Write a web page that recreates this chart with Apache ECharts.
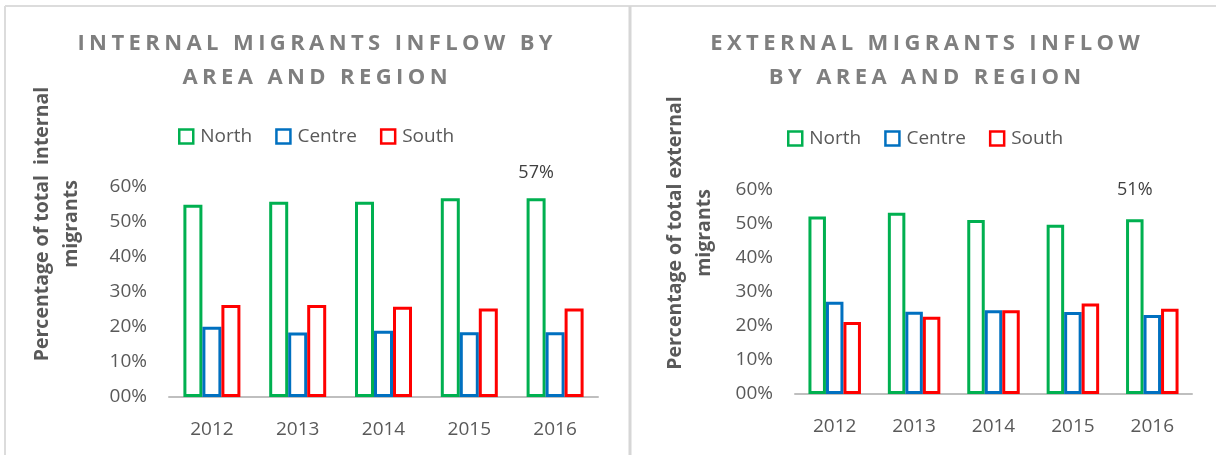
<!DOCTYPE html>
<html>
<head>
<meta charset="utf-8">
<title>Migrants inflow by area and region</title>
<script src="https://cdn.jsdelivr.net/npm/echarts@6.0.0/dist/echarts.min.js"></script>
<style>
  html, body { margin: 0; padding: 0; background: #fff; }
  #chart { width: 1216px; height: 455px; }
</style>
</head>
<body>
<div id="chart"></div>
<script>
// categories / tick values
var years = ["2012", "2013", "2014", "2015", "2016"];
var regions = ["North", "Centre", "South"];
var yTicks = [0, 10, 20, 30, 40, 50, 60];

// internal migrants, % of total
var internalNorth = [54.9, 55.8, 55.8, 56.8, 56.8];
var internalCentre = [20.1, 18.4, 18.9, 18.5, 18.5];
var internalSouth = [26.3, 26.3, 25.8, 25.3, 25.3];

// external migrants, % of total
var externalNorth = [52.2, 53.3, 51.2, 49.8, 51.4];
var externalCentre = [27.1, 24.2, 24.6, 24.1, 23.2];
var externalSouth = [21.2, 22.7, 24.6, 26.6, 25.1];

var colors = ["#00b050", "#0070c0", "#ff0000"];
var labelIndex = 4; // only 2016 North is labelled

var chart = echarts.init(document.getElementById("chart"));

function pct(v) {
  return (v < 10 ? "0" : "") + v + "%";
}

// spaced out capitals like the excel title (each char its own rich token)
function spaced(str) {
  return str.split("\n").map(function(line) {
    return line.split("").map(function(c) { return "{s|" + c + "}"; }).join("");
  }).join("\n");
}

// one bar series, outlined like the excel chart
function barSeries(name, values, color, axisIdx, withLabel, labelDist) {
  var data = values.map(function(v, i) {
    if (withLabel && i === labelIndex) {
      return {
        value: v,
        label: {
          show: true,
          position: "top",
          distance: labelDist,
          formatter: function(p) { return Math.round(p.value) + "%"; },
          color: "#404040",
          fontSize: 18,
          fontFamily: "Open Sans"
        }
      };
    }
    return v;
  });
  return {
    name: name,
    type: "bar",
    xAxisIndex: axisIdx,
    yAxisIndex: axisIdx,
    barWidth: axisIdx === 0 ? 19 : 17.5,
    barGap: "0%",
    itemStyle: { color: "#fff", borderColor: color, borderWidth: 3 },
    emphasis: { disabled: true },
    data: data
  };
}

var axisText = { color: "#595959", fontSize: 19, fontFamily: "Open Sans" };

function xAxisCfg(gridIdx) {
  return {
    type: "category",
    gridIndex: gridIdx,
    data: years,
    axisLine: { lineStyle: { color: "#bfbfbf", width: 2 } },
    axisTick: { show: false },
    axisLabel: Object.assign({ margin: 23 }, axisText)
  };
}

function yAxisCfg(gridIdx) {
  return {
    type: "value",
    gridIndex: gridIdx,
    min: yTicks[0],
    max: yTicks[yTicks.length - 1],
    interval: yTicks[1] - yTicks[0],
    axisLine: { show: false },
    axisTick: { show: false },
    splitLine: { show: false },
    axisLabel: Object.assign({ margin: 22, formatter: pct }, axisText)
  };
}

var titleStyle = {
  rich: {
    s: {
      color: "#7f7f7f",
      fontSize: 22,
      fontWeight: "bold",
      fontFamily: "Open Sans",
      lineHeight: 34,
      padding: [0, 2.2, 0, 2.2]
    }
  }
};

var legendCfg = {
  data: regions,
  icon: "rect",
  itemWidth: 14,
  itemHeight: 14,
  itemGap: 23,
  itemStyle: { borderWidth: 2.5 },
  textStyle: { color: "#595959", fontSize: 19, fontFamily: "Open Sans", padding: [0, 0, 0, 2] }
};

var nameStyle = {
  fill: "#595959",
  font: "bold 19.5px 'Open Sans'",
  align: "center",
  verticalAlign: "middle",
  lineHeight: 29
};

chart.setOption({
  animation: false,
  color: colors,
  title: [
    { text: spaced("INTERNAL MIGRANTS INFLOW BY\nAREA AND REGION"), left: 310, top: 22, textAlign: "center", textStyle: titleStyle },
    { text: spaced("EXTERNAL MIGRANTS INFLOW\nBY AREA AND REGION"), left: 920, top: 22, textAlign: "center", textStyle: titleStyle }
  ],
  legend: [
    Object.assign({ left: 173, top: 122 }, legendCfg),
    Object.assign({ left: 782, top: 124 }, legendCfg)
  ],
  grid: [
    { left: 169, right: 618, top: 187, bottom: 58 },
    { left: 795, right: 24, top: 190, bottom: 61 }
  ],
  xAxis: [xAxisCfg(0), xAxisCfg(1)],
  yAxis: [yAxisCfg(0), yAxisCfg(1)],
  graphic: [
    // frame lines
    { type: "line", shape: { x1: 5, y1: 6, x2: 1216, y2: 6 }, style: { stroke: "#dcdcdc", lineWidth: 2 } },
    { type: "line", shape: { x1: 5, y1: 6, x2: 5, y2: 455 }, style: { stroke: "#dcdcdc", lineWidth: 2 } },
    { type: "line", shape: { x1: 630, y1: 6, x2: 630, y2: 455 }, style: { stroke: "#d6d6d6", lineWidth: 3 } },
    // axis names
    { type: "text", x: 57, y: 224, rotation: Math.PI / 2, style: Object.assign({ text: "Percentage of total  internal\nmigrants" }, nameStyle) },
    { type: "text", x: 690, y: 233, rotation: Math.PI / 2, style: Object.assign({ text: "Percentage of total external\nmigrants" }, nameStyle) }
  ],
  series: [
    barSeries("North", internalNorth, colors[0], 0, true, 16),
    barSeries("Centre", internalCentre, colors[1], 0, false),
    barSeries("South", internalSouth, colors[2], 0, false),
    barSeries("North", externalNorth, colors[0], 1, true, 20),
    barSeries("Centre", externalCentre, colors[1], 1, false),
    barSeries("South", externalSouth, colors[2], 1, false)
  ]
});
</script>
</body>
</html>
